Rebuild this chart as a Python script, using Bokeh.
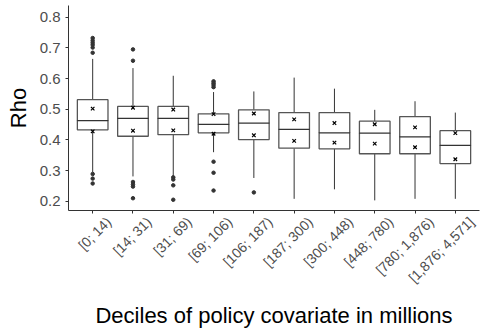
import math
from bokeh.plotting import figure
from bokeh.models import Range1d, FixedTicker, ColumnDataSource, LinearAxis
from bokeh.embed import file_html
from bokeh.resources import INLINE

categories = ["[0; 14)", "[14; 31)", "[31; 69)", "[69; 106)", "[106; 187)",
              "[187; 300)", "[300; 448)", "[448; 780)", "[780; 1,876)", "[1,876; 4,571]"]
q1 = [0.433, 0.412, 0.417, 0.423, 0.401, 0.373, 0.371, 0.355, 0.355, 0.323]
median = [0.463, 0.470, 0.470, 0.451, 0.455, 0.434, 0.423, 0.422, 0.410, 0.382]
q3 = [0.531, 0.509, 0.509, 0.485, 0.498, 0.489, 0.489, 0.461, 0.476, 0.430]
whisker_lo = [0.295, 0.281, 0.281, 0.360, 0.276, 0.208, 0.239, 0.203, 0.208, 0.208]
whisker_hi = [0.664, 0.634, 0.609, 0.556, 0.558, 0.603, 0.567, 0.498, 0.526, 0.489]
mark_hi = [0.502, 0.505, 0.499, 0.484, 0.486, 0.467, 0.455, 0.451, 0.441, 0.422]
mark_lo = [0.428, 0.430, 0.431, 0.420, 0.415, 0.397, 0.391, 0.388, 0.376, 0.337]
outlier_cat = (["[0; 14)"] * 9 + ["[14; 31)"] * 6 + ["[31; 69)"] * 4 +
               ["[69; 106)"] * 7 + ["[106; 187)"])
outlier_val = [0.732, 0.724, 0.717, 0.710, 0.701, 0.684, 0.289, 0.274, 0.258,
               0.695, 0.658, 0.263, 0.255, 0.248, 0.210,
               0.278, 0.271, 0.252, 0.205,
               0.591, 0.585, 0.579, 0.572, 0.329, 0.293, 0.235,
               0.229]
y_ticks = [0.2, 0.3, 0.4, 0.5, 0.6, 0.7, 0.8]

n = len(categories)
pos = list(range(n))  # ordinal position of each category
src = ColumnDataSource(dict(x=pos, q1=q1, med=median, q3=q3,
                            wlo=whisker_lo, whi=whisker_hi,
                            mhi=mark_hi, mlo=mark_lo))
out_x = [categories.index(c) for c in outlier_cat]

Y0, Y1 = 0.17, 0.838
PAD = 0.6
p = figure(width=487, height=331, output_backend="svg", toolbar_location=None,
           x_range=Range1d(-PAD, n - 1 + PAD), y_range=Range1d(Y0, Y1),
           min_border_left=68, min_border_right=8, min_border_top=5, min_border_bottom=121)
p.outline_line_color = None
p.xgrid.grid_line_color = None
p.ygrid.grid_line_color = None

p.segment(x0="x", y0="q3", x1="x", y1="whi", source=src, line_color="#333333", line_width=1)
p.segment(x0="x", y0="q1", x1="x", y1="wlo", source=src, line_color="#333333", line_width=1)
p.vbar(x="x", bottom="q1", top="q3", width=0.76, source=src,
       fill_color="white", line_color="#555555", line_width=1.3)
p.rect(x="x", y="med", width=0.76, height=0.0001, source=src,
       line_color="#333333", line_width=1.2, fill_color=None)
p.scatter(x=out_x, y=outlier_val, size=3.5, color="#333333")
p.scatter(x="x", y="mhi", source=src, marker="x", size=5, line_color="black", line_width=1.2)
p.scatter(x="x", y="mlo", source=src, marker="x", size=5, line_color="black", line_width=1.2)

for ax in (p.xaxis[0], p.yaxis[0]):
    ax.axis_line_color = "#333333"
    ax.axis_line_width = 1
    ax.major_tick_line_color = "#333333"
    ax.major_tick_out = 3
    ax.major_tick_in = 0
    ax.minor_tick_line_color = None
    ax.major_label_text_font = "Liberation Sans"
    ax.major_label_text_color = "#4d4d4d"
    ax.axis_label_text_font = "Liberation Sans"
    ax.axis_label_text_font_style = "normal"
    ax.axis_label_text_color = "black"

# main x axis: line and ticks only
p.xaxis[0].ticker = FixedTicker(ticks=pos)
p.xaxis[0].major_label_overrides = {i: "" for i in pos}
p.xaxis[0].major_label_text_font_size = "1px"
p.xaxis[0].major_label_standoff = 0

# rotated category labels on a helper axis, shifted right so they sit under the ticks
SHIFT = 0.4
p.extra_x_ranges = {"lab": Range1d(-PAD - SHIFT, n - 1 + PAD - SHIFT)}
lab_axis = LinearAxis(x_range_name="lab")
lab_axis.ticker = FixedTicker(ticks=pos)
lab_axis.major_label_overrides = {i: c for i, c in enumerate(categories)}
lab_axis.major_label_orientation = math.pi / 4
lab_axis.axis_line_color = None
lab_axis.major_tick_line_color = None
lab_axis.minor_tick_line_color = None
lab_axis.major_tick_out = 0
lab_axis.major_tick_in = 0
lab_axis.major_label_standoff = 6
lab_axis.major_label_text_font = "Liberation Sans"
lab_axis.major_label_text_font_size = "14px"
lab_axis.major_label_text_color = "#4d4d4d"
lab_axis.axis_label = "Deciles of policy covariate in millions"
lab_axis.axis_label_text_font = "Liberation Sans"
lab_axis.axis_label_text_font_style = "normal"
lab_axis.axis_label_text_font_size = "22px"
lab_axis.axis_label_text_color = "black"
lab_axis.axis_label_standoff = 9
p.add_layout(lab_axis, "below")

p.yaxis.ticker = FixedTicker(ticks=y_ticks)
p.yaxis.major_label_text_font_size = "15px"
p.yaxis.axis_label = "Rho"
p.yaxis.axis_label_text_font_size = "22px"
p.yaxis.axis_label_standoff = 6

open("out.html", "w").write(file_html(p, INLINE))
